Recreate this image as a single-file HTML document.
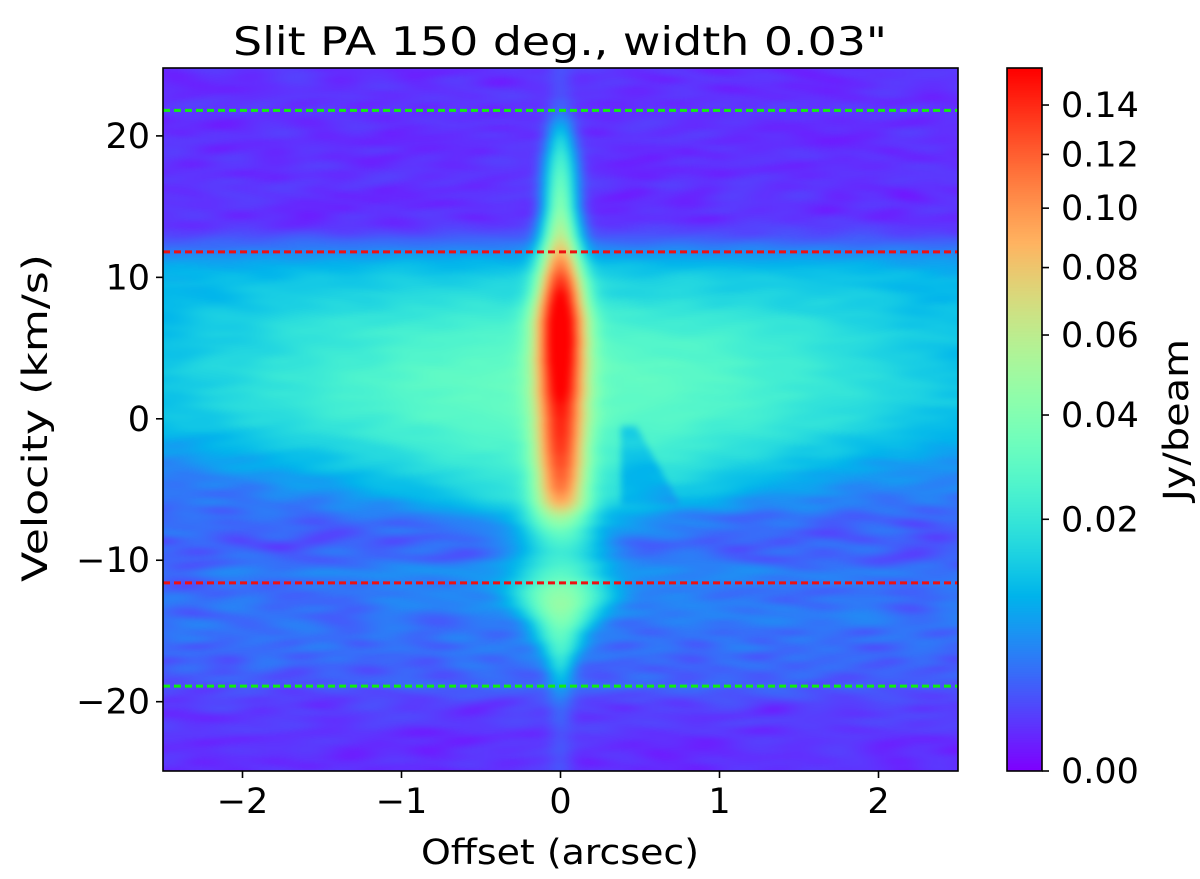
<!DOCTYPE html>
<html><head><meta charset="utf-8"><style>
html,body{margin:0;padding:0;background:#fff;}
#wrap{position:relative;width:1200px;height:879px;overflow:hidden;}
canvas,svg{position:absolute;left:0;top:0;}
text{font-family:"DejaVu Sans","Liberation Sans",sans-serif;fill:#000;}
</style></head><body>
<div id="wrap">
<canvas id="heat" width="1200" height="879"></canvas>
<svg id="ov" width="1200" height="879"></svg>
</div>
<script>
// ---- data ----
const velocities = [-25,-24,-23,-22,-21,-20,-19,-18,-17,-16,-15,-14,-13,-12,-11,-10,-9,-8,-7,-6,-5,-4,-3,-2,-1,0,1,2,3,4,5,6,7,8,9,10,11,12,13,14,15,16,17,18,19,20,21,22,23,24,25];
const coreLevel = [0.001,0.001,0.001,0.001,0.002,0.002,0.005,0.01,0.016,0.022,0.03,0.038,0.045,0.036,0.022,0.016,0.016,0.024,0.04,0.07,0.09,0.1,0.105,0.11,0.112,0.115,0.12,0.128,0.135,0.142,0.148,0.15,0.15,0.145,0.135,0.115,0.095,0.075,0.058,0.048,0.04,0.035,0.03,0.025,0.019,0.013,0.006,0.002,0.001,0.001,0.001];
const coreWidth = [0.05,0.05,0.05,0.05,0.05,0.05,0.05,0.05,0.06,0.08,0.1,0.13,0.16,0.18,0.18,0.16,0.14,0.13,0.12,0.11,0.1,0.1,0.1,0.1,0.1,0.1,0.1,0.1,0.1,0.1,0.1,0.1,0.1,0.095,0.09,0.085,0.08,0.075,0.07,0.065,0.06,0.06,0.06,0.06,0.055,0.05,0.05,0.05,0.05,0.05,0.05];
const diskLevel = [0,0,0,0,0,0,0.001,0.001,0.001,0.001,0.001,0.002,0.002,0.002,0.003,0.004,0.005,0.006,0.009,0.014,0.017,0.019,0.021,0.023,0.025,0.027,0.028,0.029,0.029,0.028,0.026,0.024,0.021,0.017,0.014,0.012,0.009,0.004,0.001,0,0,0,0,0,0,0,0,0,0,0,0];
const diskHalfWidth = [1,1,1,1,1,1,2,2,2,2,2,2,2,2,2,0.3,0.3,0.4,0.5,0.8,1.0,1.2,1.4,1.6,1.8,1.9,2.0,2.0,2.0,2.0,2.0,2.1,2.3,2.5,2.7,3.0,3.3,3.3,3.0,1,1,1,1,1,1,1,1,1,1,1,1];
const backgroundLevel = [0.0005,0.0005,0.0005,0.0006,0.0007,0.0009,0.0012,0.0015,0.0018,0.002,0.002,0.002,0.002,0.002,0.002,0.002,0.002,0.002,0.002,0.002,0.002,0.002,0.002,0.002,0.002,0.002,0.002,0.002,0.002,0.002,0.002,0.002,0.002,0.002,0.002,0.002,0.0012,0.0007,0.0005,0.0005,0.0005,0.0005,0.0005,0.0005,0.0005,0.0005,0.0005,0.0005,0.0005,0.0005,0.0005];
const dipOffsetRange = [0.38, 0.75];
const dipVelocityRange = [-6, -0.5];
const dipFactor = 0.5;
const guideLinesGreen = [21.8, -18.9];
const guideLinesRed = [11.8, -11.6];
const xTicks = [-2,-1,0,1,2];
const yTicks = [-20,-10,0,10,20];
const cbTicks = [0.00,0.02,0.04,0.06,0.08,0.10,0.12,0.14];
const VMAX = 0.156;

// ---- axes ----
const PX0=163, PX1=958, PY0=68, PY1=771;
const XMIN=-2.5, XMAX=2.5, VLO=-24.9, VHI=24.8;
const xS = o => PX0 + (o-XMIN)/(XMAX-XMIN)*(PX1-PX0);
const yS = v => PY1 - (v-VLO)/(VHI-VLO)*(PY1-PY0);
const CBX0=1007, CBX1=1042;
const cbY = val => PY1 - Math.sqrt(val/VMAX)*(PY1-PY0);

function rainbow(x){
  x=Math.max(0,Math.min(1,x));
  const r=Math.min(1,Math.abs(2*x-0.5)), g=Math.sin(Math.PI*x), b=Math.cos(Math.PI*x/2);
  return [r*255,g*255,b*255];
}
function interp(arr,v){
  let f=(v-velocities[0]); if(f<0)f=0; if(f>velocities.length-1)f=velocities.length-1;
  const i=Math.floor(f), t=f-i; const j=Math.min(i+1,arr.length-1);
  return arr[i]*(1-t)+arr[j]*t;
}
function texture(o,v){
  const r=Math.floor((v+30)*3.2);
  const h=Math.sin(r*12.9898)*43758.5453; const ph=h-Math.floor(h);
  const h2=Math.sin(r*78.233)*12345.678; const ph2=h2-Math.floor(h2);
  return 0.5+0.5*Math.sin(o*(4+ph*6)+ph*20)*Math.sin(o*(2+ph2*5)+r*2.3);
}
const cv=document.getElementById('heat'), ctx=cv.getContext('2d');
const M=12;
const W=PX1-PX0+2*M, H=PY1-PY0+2*M;
const img=ctx.createImageData(W,H);
for(let py=0;py<H;py++){
  const v=VHI-(py-M+0.5)/(PY1-PY0)*(VHI-VLO);
  const cl=interp(coreLevel,v), cw=interp(coreWidth,v), dl=interp(diskLevel,v), dh=interp(diskHalfWidth,v), bg=interp(backgroundLevel,v);
  for(let px=0;px<W;px++){
    const o=XMIN+(px-M+0.5)/(PX1-PX0)*(XMAX-XMIN);
    let disk=dl/(1+Math.pow(Math.abs(o)/dh,2.5));
    if(o>dipOffsetRange[0]&&o<dipOffsetRange[1]+(v-dipVelocityRange[0])*-0.05 && v>dipVelocityRange[0]&&v<dipVelocityRange[1]) disk*=dipFactor;
    const core=cl*Math.exp(-0.5*(o/cw)*(o/cw));
    const val=core+disk+bg*(0.2+2.0*texture(o,v));
    const c=rainbow(Math.sqrt(Math.max(0,val)/VMAX));
    const k=(py*W+px)*4; img.data[k]=c[0];img.data[k+1]=c[1];img.data[k+2]=c[2];img.data[k+3]=255;
  }
}
const off=document.createElement('canvas'); off.width=W; off.height=H; off.getContext('2d').putImageData(img,0,0);
ctx.save(); ctx.beginPath(); ctx.rect(PX0,PY0,PX1-PX0,PY1-PY0); ctx.clip();
ctx.filter='blur(3px)'; ctx.drawImage(off,PX0-M,PY0-M);
ctx.restore(); ctx.filter='none';
// colorbar
for(let py=PY0;py<PY1;py++){const c=rainbow((PY1-py)/(PY1-PY0));ctx.fillStyle=`rgb(${c[0]|0},${c[1]|0},${c[2]|0})`;ctx.fillRect(CBX0,py,CBX1-CBX0,1);}

// ---- overlay ----
const svg=document.getElementById('ov'), NS='http://www.w3.org/2000/svg';
function mk(tag,attrs,parent){const e=document.createElementNS(NS,tag);for(const k in attrs)e.setAttribute(k,attrs[k]);(parent||svg).appendChild(e);return e;}
guideLinesGreen.forEach(v=>{const l=mk('line',{x1:PX0,x2:PX1,y1:yS(v),y2:yS(v),stroke:'#11ee11','stroke-width':3,'stroke-dasharray':'7,4'});

});
guideLinesRed.forEach(v=>{const l=mk('line',{x1:PX0,x2:PX1,y1:yS(v),y2:yS(v),stroke:'#ee1111','stroke-width':3,'stroke-dasharray':'7,4'});

});
const frame=mk('rect',{x:PX0,y:PY0,width:PX1-PX0,height:PY1-PY0,fill:'none',stroke:'#000','stroke-width':1.6});


const cbf=mk('rect',{x:CBX0,y:PY0,width:CBX1-CBX0,height:PY1-PY0,fill:'none',stroke:'#000','stroke-width':1.6});


const fmt=n=>(n<0?'\u2212':'')+Math.abs(n);
xTicks.forEach(t=>{mk('line',{x1:xS(t),x2:xS(t),y1:PY1,y2:PY1+7,stroke:'#000','stroke-width':1.6});
const tx=mk('text',{x:xS(t),y:PY1+42,'text-anchor':'middle','font-size':35});tx.textContent=fmt(t);

});
yTicks.forEach(t=>{mk('line',{x1:PX0-7,x2:PX0,y1:yS(t),y2:yS(t),stroke:'#000','stroke-width':1.6});
const tx=mk('text',{x:PX0-13,y:yS(t)+12,'text-anchor':'end','font-size':35});tx.textContent=fmt(t);

});
cbTicks.forEach(t=>{const y=cbY(t);mk('line',{x1:CBX1,x2:CBX1+7,y1:y,y2:y,stroke:'#000','stroke-width':1.6});
const tx=mk('text',{x:1061,y:y+12,'font-size':35});tx.textContent=t.toFixed(2);

});
let t;
t=mk('text',{x:560,y:55,'text-anchor':'middle','font-size':39,textLength:654,lengthAdjust:'spacingAndGlyphs'});t.textContent='Slit PA 150 deg., width 0.03"';


t=mk('text',{x:560,y:864,'text-anchor':'middle','font-size':35,textLength:278,lengthAdjust:'spacingAndGlyphs'});t.textContent='Offset (arcsec)';


t=mk('text',{x:0,y:0,'text-anchor':'middle','font-size':35,transform:'translate(47,418) rotate(-90)',textLength:328,lengthAdjust:'spacingAndGlyphs'});t.textContent='Velocity (km/s)';


t=mk('text',{x:0,y:0,'text-anchor':'middle','font-size':35,transform:'translate(1188,420) rotate(-90)',textLength:162,lengthAdjust:'spacingAndGlyphs'});t.textContent='Jy/beam';


</script>
</body></html>
